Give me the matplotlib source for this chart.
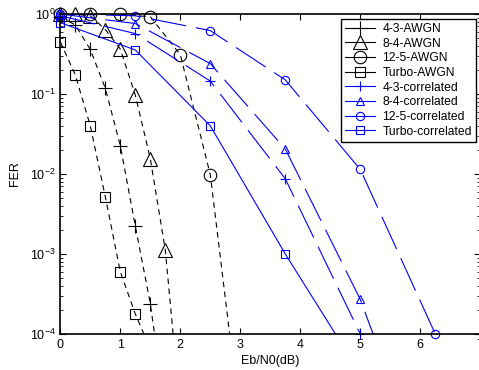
import numpy as np
import matplotlib.pyplot as plt
from matplotlib.lines import Line2D

plt.rcParams['font.family'] = ['Liberation Sans', 'DejaVu Sans']
plt.rcParams['mathtext.default'] = 'regular'

# AWGN channel, frame error rate vs Eb/N0
x_43_awgn = [0, 0.25, 0.5, 0.75, 1.0, 1.25, 1.5, 1.75]
fer_43_awgn = [0.92, 0.73, 0.36, 0.118, 0.0226, 0.00224, 2.4e-4, 1.1e-5]
x_84_awgn = [0, 0.25, 0.5, 0.75, 1.0, 1.25, 1.5, 1.75, 2.0]
fer_84_awgn = [1.0, 0.99, 0.95, 0.64, 0.365, 0.097, 0.0156, 1.12e-3, 1.1e-5]
x_125_awgn = [0, 0.5, 1.0, 1.5, 2.0, 2.5, 3.0]
fer_125_awgn = [1.0, 0.99, 0.99, 0.925, 0.31, 0.0098, 8e-6]
x_turbo_awgn = [0, 0.25, 0.5, 0.75, 1.0, 1.25, 1.5]
fer_turbo_awgn = [0.45, 0.173, 0.04, 5.2e-3, 6.0e-4, 1.78e-4, 6.5e-5]

# correlated channel
x_corr = [0, 1.25, 2.5, 3.75, 5.0, 6.25]
fer_43_corr = [0.95, 0.57, 0.145, 8.7e-3, 1.0e-4]
fer_84_corr = [1.0, 0.76, 0.24, 0.0205, 2.7e-4, 8e-7]
fer_125_corr = [1.0, 0.95, 0.62, 0.15, 0.0114, 1.0e-4]
fer_turbo_corr = [0.78, 0.355, 0.040, 1.0e-3, 3.2e-5]

labels = ['4-3-AWGN', '8-4-AWGN', '12-5-AWGN', 'Turbo-AWGN',
          '4-3-correlated', '8-4-correlated', '12-5-correlated', 'Turbo-correlated']

blk_dash = (0, (5, 4))
blu_dash = (0, (32, 9))
series = [
    (x_43_awgn, fer_43_awgn, 'black', blk_dash, '+', 10),
    (x_84_awgn, fer_84_awgn, 'black', blk_dash, '^', 10),
    (x_125_awgn, fer_125_awgn, 'black', blk_dash, 'o', 9),
    (x_turbo_awgn, fer_turbo_awgn, 'black', blk_dash, 's', 6.5),
    (x_corr, fer_43_corr, 'blue', blu_dash, '+', 6.5),
    (x_corr, fer_84_corr, 'blue', blu_dash, '^', 6),
    (x_corr, fer_125_corr, 'blue', blu_dash, 'o', 6),
    (x_corr, fer_turbo_corr, 'blue', '-', 's', 5.5),
]

fig = plt.figure(figsize=(4.79, 3.70), dpi=100)
ax = fig.add_axes([60.3 / 479, 36 / 370, 420 / 479, 320 / 370])
ymin, ymax = 1e-4, 1.0

handles = []
for xs, ys, col, ls, mk, ms in series:
    xs = np.array(xs[:len(ys)], dtype=float)
    ys = np.array(ys, dtype=float)
    ax.plot(xs, ys, color=col, ls=ls, lw=0.8)
    # markers are not clipped at the frame, only points inside the y range
    inside = (ys >= ymin * 0.999) & (ys <= ymax * 1.001)
    ax.plot(xs[inside], ys[inside], ls='none', marker=mk, ms=ms, color=col,
            mfc='none', mec=col, mew=0.8, clip_on=False)
    handles.append(Line2D([], [], color=col, ls='-', lw=0.8, marker=mk,
                          ms=ms, mfc='none', mec=col, mew=0.8))

ax.set_yscale('log')
ax.set_xlim(0, 7)
ax.set_ylim(ymin, ymax)
ax.set_xticks([0, 1, 2, 3, 4, 5, 6, 7])
ax.set_xlabel('Eb/N0(dB)', fontsize=9, labelpad=3)
ax.set_ylabel('FER', fontsize=9, labelpad=6)
ax.tick_params(which='both', direction='in', top=True, right=True, labelsize=9)
ax.tick_params(which='major', length=4)
ax.tick_params(which='minor', length=2)
for sp in ax.spines.values():
    sp.set_linewidth(1.2)

leg = ax.legend(handles, labels, loc='upper right', bbox_to_anchor=(0.99, 0.985),
                borderaxespad=0, fontsize=8.7, frameon=True, fancybox=False,
                edgecolor='black', framealpha=1, handlelength=2.5,
                handletextpad=0.6, labelspacing=0.22, borderpad=0.35)
leg.get_frame().set_linewidth(1.0)

fig.savefig('out.png', dpi=100)
